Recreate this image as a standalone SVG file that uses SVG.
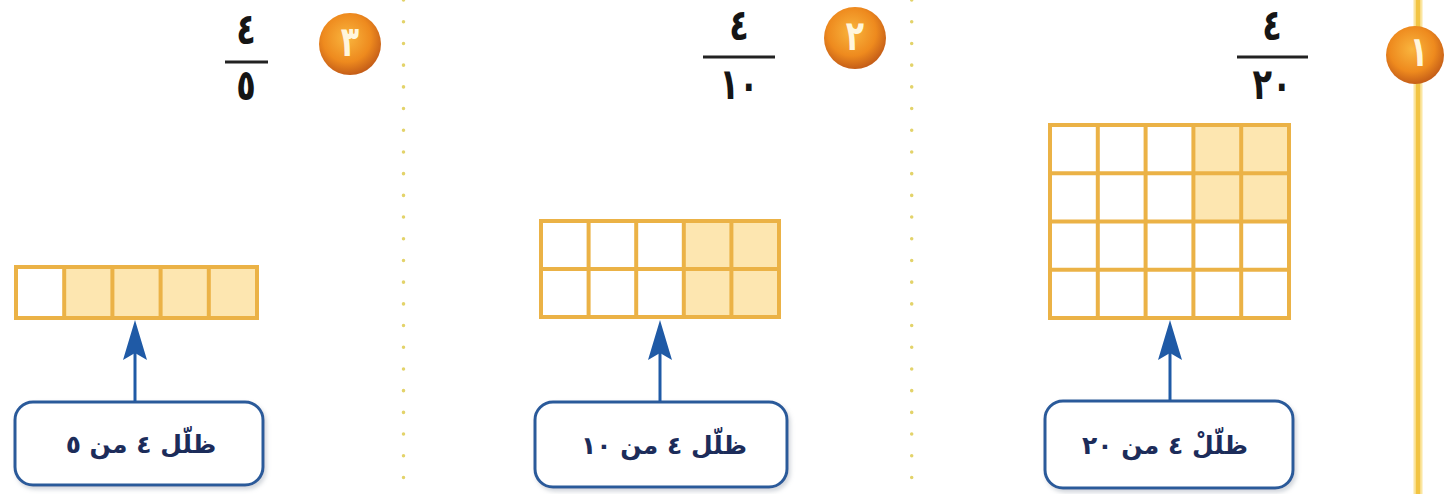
<svg xmlns="http://www.w3.org/2000/svg" width="1447" height="494" viewBox="0 0 1447 494">
<style>
.cell{fill:#ffffff;stroke:#ebb246;stroke-width:4}
.shade{fill:#fde6b0}
.frac{font-family:"DejaVu Sans",sans-serif;font-size:32px;font-weight:bold;fill:#151515;text-anchor:middle}
.bar{stroke:#222;stroke-width:3}
.badgeNum{font-family:"DejaVu Sans",sans-serif;font-size:30px;font-weight:bold;fill:#fff6dc;text-anchor:middle}
.box{fill:#ffffff;stroke:#2a5a9a;stroke-width:3}
.lbl{font-family:"DejaVu Sans","Noto Sans Arabic",sans-serif;font-size:25px;font-weight:bold;fill:#1c2c5a;text-anchor:middle}
.conn{stroke:#1f5aa6;stroke-width:3;fill:none}
.dots{stroke:#e3d36a;stroke-width:3.5;stroke-linecap:round;stroke-dasharray:0.1 21.6}
</style>
<defs>
<radialGradient id="bg" cx="0.45" cy="0.4" r="0.6">
<stop offset="0" stop-color="#f9b53e"/>
<stop offset="0.65" stop-color="#ee8a1e"/>
<stop offset="1" stop-color="#c55e18"/>
</radialGradient>
<filter id="sh" x="-10%" y="-10%" width="120%" height="130%">
<feDropShadow dx="2" dy="3" stdDeviation="2" flood-color="#9aa3b0" flood-opacity="0.45"/>
</filter>
<marker id="ah" markerUnits="userSpaceOnUse" viewBox="-22 -14 44 28" refX="0" refY="0" markerWidth="44" markerHeight="28" orient="auto">
<path d="M20,0 L-20,-12 L-13,0 L-20,12 Z" fill="#1f5aa6"/>
</marker>
</defs>
<rect width="1447" height="494" fill="#ffffff"/>

<!-- separators -->
<g id="separators">
<line class="dots" x1="403.5" y1="0" x2="403.5" y2="494"/>
<line class="dots" x1="911.7" y1="0" x2="911.7" y2="494"/>
<line x1="1418" y1="0" x2="1418" y2="494" stroke="#fbe6a0" stroke-width="9"/>
<line x1="1418" y1="0" x2="1418" y2="494" stroke="#f2c443" stroke-width="4.5"/>
</g>

<!-- problem 1 -->
<g id="badge1">
<circle cx="1415" cy="55" r="29" fill="url(#bg)"/>
<text class="badgeNum" transform="translate(1419,66) scale(1,1.4)">١</text>
</g>
<g id="fraction1">
<text class="frac" transform="translate(1272,40) scale(1,1.35)">٤</text>
<line class="bar" x1="1237" y1="57" x2="1308" y2="57"/>
<text class="frac" transform="translate(1272,99) scale(1,1.35)">٢٠</text>
</g>
<g id="grid1">
<rect class="shade" x="1193.4" y="125" width="95.6" height="96.5"/>
<g fill="none" stroke="#ebb246" stroke-width="4">
<rect x="1050" y="125" width="239" height="193"/>
<line x1="1097.8" y1="125" x2="1097.8" y2="318"/>
<line x1="1145.6" y1="125" x2="1145.6" y2="318"/>
<line x1="1193.4" y1="125" x2="1193.4" y2="318"/>
<line x1="1241.2" y1="125" x2="1241.2" y2="318"/>
<line x1="1050" y1="173.25" x2="1289" y2="173.25"/>
<line x1="1050" y1="221.5" x2="1289" y2="221.5"/>
<line x1="1050" y1="269.75" x2="1289" y2="269.75"/>
</g>
</g>
<g id="label1">
<rect class="box" x="1045" y="401" width="248" height="87" rx="18" filter="url(#sh)"/>
<text class="lbl" x="1165" y="454">ظلّلْ ٤ من ٢٠</text>
</g>

<!-- problem 2 -->
<g id="badge2">
<circle cx="855" cy="38" r="31" fill="url(#bg)"/>
<text class="badgeNum" transform="translate(855,50) scale(1,1.4)">٢</text>
</g>
<g id="fraction2">
<text class="frac" transform="translate(739,40) scale(1,1.35)">٤</text>
<line class="bar" x1="703" y1="57" x2="775" y2="57"/>
<text class="frac" transform="translate(739,99) scale(1,1.35)">١٠</text>
</g>
<g id="grid2">
<rect class="shade" x="683.8" y="221" width="95.2" height="96"/>
<g fill="none" stroke="#ebb246" stroke-width="4">
<rect x="541" y="221" width="238" height="96"/>
<line x1="588.6" y1="221" x2="588.6" y2="317"/>
<line x1="636.2" y1="221" x2="636.2" y2="317"/>
<line x1="683.8" y1="221" x2="683.8" y2="317"/>
<line x1="731.4" y1="221" x2="731.4" y2="317"/>
<line x1="541" y1="269" x2="779" y2="269"/>
</g>
</g>
<g id="label2">
<rect class="box" x="535" y="402" width="252" height="85" rx="18" filter="url(#sh)"/>
<text class="lbl" x="664" y="454">ظلّل ٤ من ١٠</text>
</g>

<!-- problem 3 -->
<g id="badge3">
<circle cx="350" cy="44" r="31" fill="url(#bg)"/>
<text class="badgeNum" transform="translate(350,56) scale(1,1.4)">٣</text>
</g>
<g id="fraction3">
<text class="frac" transform="translate(246,44) scale(1,1.35)">٤</text>
<line class="bar" x1="225" y1="62" x2="268" y2="62"/>
<text class="frac" transform="translate(246,100) scale(1,1.35)">٥</text>
</g>
<g id="grid3">
<rect class="shade" x="64.2" y="267" width="192.8" height="51"/>
<g fill="none" stroke="#ebb246" stroke-width="4">
<rect x="16" y="267" width="241" height="51"/>
<line x1="64.2" y1="267" x2="64.2" y2="318"/>
<line x1="112.4" y1="267" x2="112.4" y2="318"/>
<line x1="160.6" y1="267" x2="160.6" y2="318"/>
<line x1="208.8" y1="267" x2="208.8" y2="318"/>
</g>
</g>
<g id="label3">
<rect class="box" x="15" y="402" width="248" height="83" rx="18" filter="url(#sh)"/>
<text class="lbl" x="141" y="453">ظلّل ٤ من ٥</text>
</g>

<!-- connectors -->
<g id="connectors">
<line class="conn" x1="1170" y1="400" x2="1170" y2="340" marker-end="url(#ah)"/>
<line class="conn" x1="660" y1="401" x2="660" y2="340" marker-end="url(#ah)"/>
<line class="conn" x1="135" y1="401" x2="135" y2="340" marker-end="url(#ah)"/>
</g>
</svg>
